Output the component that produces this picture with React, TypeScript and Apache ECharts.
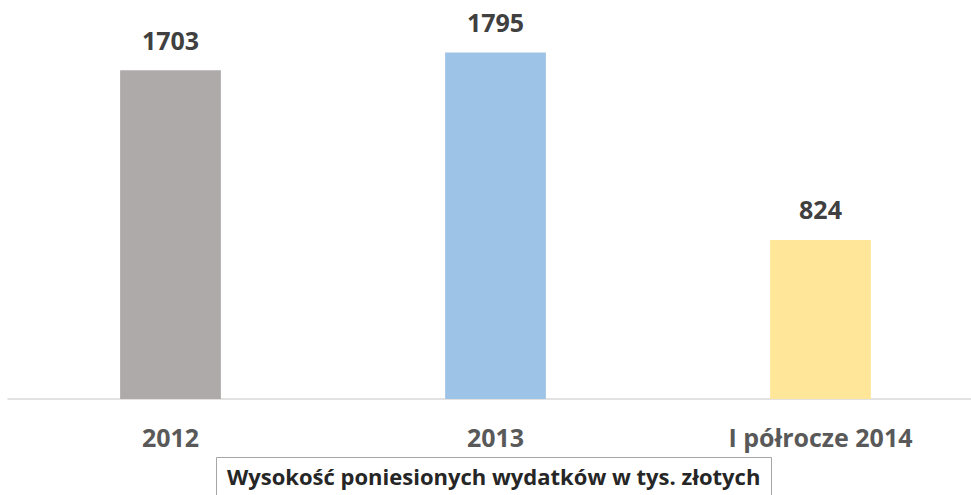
import React, { useEffect, useRef } from "react";
import * as echarts from "echarts";

const categories = ["2012", "2013", "I półrocze 2014"];
const values = [1703, 1795, 824];
const barColors = ["#AEAAAA", "#9DC3E6", "#FFE699"];
const seriesName = "Wysokość poniesionych wydatków w tys. złotych";

export default function App() {
  const ref = useRef<HTMLDivElement>(null);
  useEffect(() => {
    document.body.style.margin = "0";
    const chart = echarts.init(ref.current!, null, { renderer: "svg" });
    chart.setOption({
      animation: false,
      backgroundColor: "#ffffff",
      textStyle: { fontFamily: "Open Sans" },
      title: {
        text: seriesName,
        left: 216,
        top: 457,
        padding: [8, 11, 12, 11],
        borderColor: "#a6a6a6",
        borderWidth: 1,
        textStyle: {
          fontFamily: "Open Sans",
          fontWeight: "bold",
          fontSize: 22,
          color: "#262626",
        },
      },
      grid: { left: 8, width: 975, top: 13, bottom: 96, outerBoundsMode: "none", containLabel: false },
      xAxis: {
        type: "category",
        data: categories,
        axisLine: { lineStyle: { color: "#d9d9d9", width: 1.5 } },
        axisTick: { show: false },
        axisLabel: {
          margin: 25,
          fontFamily: "Open Sans",
          fontWeight: "bold",
          fontSize: 25,
          color: "#595959",
        },
      },
      yAxis: {
        type: "value",
        min: 0,
        max: 2000,
        show: false,
        splitLine: { show: false },
      },
      series: [
        {
          name: seriesName,
          type: "bar",
          barWidth: "31%",
          data: values.map((v, i) => ({ value: v, itemStyle: { color: barColors[i] } })),
          label: {
            show: true,
            position: "top",
            distance: 18,
            fontFamily: "Open Sans",
            fontWeight: "bold",
            fontSize: 25,
            color: "#404040",
          },
        },
      ],
    });
    return () => chart.dispose();
  }, []);
  return <div ref={ref} style={{ width: 971, height: 495 }} />;
}
